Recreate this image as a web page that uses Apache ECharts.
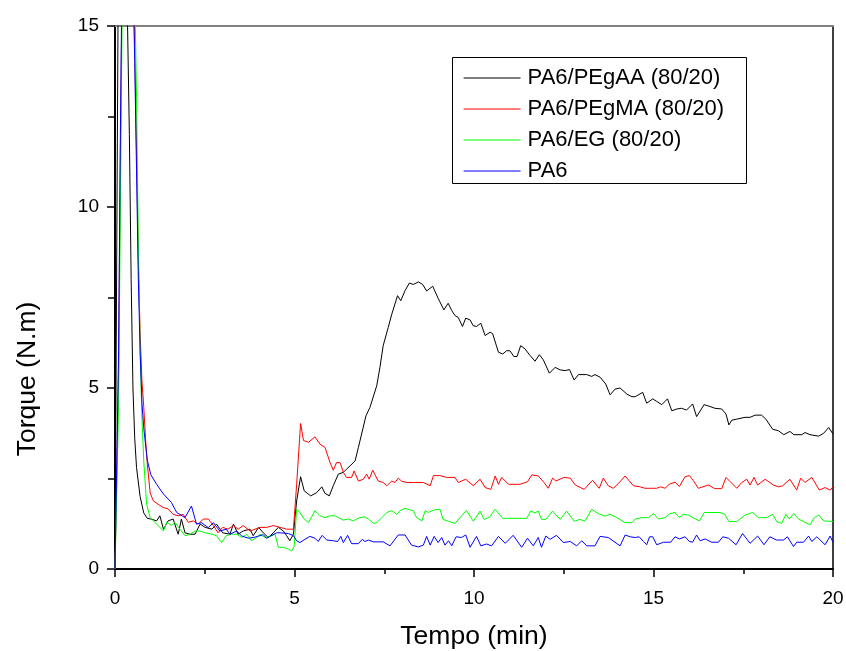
<!DOCTYPE html>
<html>
<head>
<meta charset="utf-8">
<script src="https://cdn.jsdelivr.net/npm/echarts@6/dist/echarts.min.js"></script>
<style>html,body{margin:0;padding:0;background:#fff}#c{width:846px;height:651px}</style>
</head>
<body>
<div id="c"></div>
<script>
// ---- data (time in min, torque in N.m) ----
var seriesNames = ['PA6/PEgAA (80/20)', 'PA6/PEgMA (80/20)', 'PA6/EG (80/20)', 'PA6'];
var xTicks = [0, 5, 10, 15, 20];
var yTicks = [0, 5, 10, 15];

var blackData = [[0,0],[0.05,9],[0.1,18],[0.2,22],[0.3,18],[0.4,12],[0.45,8],[0.5,5],[0.55,3.6],[0.6,2.8],
[0.7,2.0],[0.8,1.55],[0.9,1.4],[1.0,1.38],[1.16,1.33],[1.25,1.47],[1.35,1.1],[1.48,1.33],[1.62,1.38],[1.76,0.96],
[1.85,1.38],[1.95,1.0],[2.09,0.96],[2.23,0.96],[2.37,1.24],[2.51,1.15],[2.7,1.1],[2.83,1.24],[3.0,1.0],[3.2,0.96],
[3.3,1.24],[3.43,0.96],[3.57,1.05],[3.76,1.1],[3.85,0.92],[4.0,1.15],[4.13,1.0],[4.27,0.87],[4.41,1.0],[4.55,1.15],
[4.69,1.05],[4.78,0.92],[4.87,0.78],[4.97,0.96],[5.06,1.88],[5.17,2.55],[5.27,2.16],[5.45,2.02],[5.62,2.11],[5.76,2.27],
[5.85,2.09],[5.97,2.02],[6.08,2.3],[6.22,2.62],[6.36,2.67],[6.45,2.76],[6.55,2.85],[6.69,2.99],[6.78,3.36],[6.87,3.73],
[6.99,4.23],[7.1,4.46],[7.29,5.06],[7.38,5.57],[7.47,6.17],[7.61,6.67],[7.71,7.04],[7.87,7.55],[7.96,7.41],[8.08,7.69],
[8.2,7.9],[8.31,7.86],[8.45,7.93],[8.57,7.86],[8.68,7.68],[8.85,7.81],[9.01,7.46],[9.16,7.16],[9.28,7.34],[9.38,7.14],
[9.47,7.0],[9.56,6.95],[9.68,6.7],[9.77,6.93],[9.89,6.88],[9.98,6.72],[10.07,6.7],[10.19,6.79],[10.31,6.45],[10.45,6.54],
[10.52,6.5],[10.68,5.99],[10.8,5.94],[10.91,6.03],[11.0,6.03],[11.11,5.87],[11.2,5.87],[11.3,6.17],[11.42,6.08],[11.56,5.9],
[11.7,5.74],[11.82,5.92],[11.93,5.78],[12.1,5.41],[12.26,5.57],[12.4,5.5],[12.54,5.48],[12.66,5.51],[12.79,5.22],[12.91,5.37],
[13.14,5.37],[13.28,5.32],[13.37,5.37],[13.51,5.3],[13.67,5.11],[13.79,4.81],[13.93,4.97],[14.07,5.0],[14.26,4.83],[14.4,4.76],
[14.49,4.76],[14.7,4.88],[14.81,4.58],[14.98,4.7],[15.09,4.63],[15.23,4.54],[15.39,4.7],[15.51,4.37],[15.65,4.42],[15.78,4.44],
[15.92,4.39],[16.09,4.56],[16.2,4.21],[16.41,4.54],[16.57,4.49],[16.71,4.44],[16.9,4.42],[17.02,4.28],[17.1,3.98],[17.18,4.11],
[17.32,4.14],[17.55,4.19],[17.69,4.19],[17.83,4.25],[18.01,4.25],[18.13,4.14],[18.32,3.86],[18.48,3.82],[18.63,3.71],[18.8,3.8],
[18.91,3.71],[19.13,3.71],[19.22,3.77],[19.36,3.71],[19.6,3.67],[19.74,3.75],[19.88,3.91],[19.92,3.89],[20.0,3.73]];

var redData = [[0,0],[0.05,0],[0.1,5.5],[0.15,11.5],[0.2,16.5],[0.3,22],[0.4,20],[0.5,16.8],[0.55,14.3],[0.6,11.5],
[0.65,8.5],[0.7,6.5],[0.75,5.2],[0.8,4.5],[0.85,3.6],[0.9,2.9],[0.98,2.1],[1.07,1.88],[1.2,1.79],[1.34,1.7],
[1.48,1.66],[1.62,1.51],[1.76,1.47],[1.9,1.51],[2.04,1.29],[2.18,1.33],[2.32,1.24],[2.46,1.38],[2.6,1.38],[2.74,1.2],
[2.87,1.0],[3.0,1.15],[3.15,1.1],[3.3,1.2],[3.43,1.1],[3.57,1.2],[3.76,1.05],[3.9,1.1],[4.04,1.15],[4.23,1.15],
[4.41,1.2],[4.6,1.15],[4.78,1.1],[4.97,1.1],[5.06,2.34],[5.17,4.02],[5.25,3.55],[5.39,3.5],[5.57,3.65],[5.71,3.45],
[5.85,3.36],[5.99,2.94],[6.08,2.73],[6.17,2.94],[6.27,2.94],[6.36,2.67],[6.45,2.53],[6.59,2.53],[6.66,2.71],[6.78,2.43],
[6.92,2.48],[7.01,2.62],[7.08,2.48],[7.18,2.73],[7.33,2.43],[7.47,2.39],[7.57,2.3],[7.71,2.43],[7.8,2.39],[7.89,2.51],
[7.99,2.42],[8.13,2.39],[8.31,2.39],[8.59,2.39],[8.78,2.3],[8.87,2.58],[9.05,2.58],[9.24,2.53],[9.47,2.53],[9.56,2.39],
[9.77,2.48],[9.98,2.3],[10.17,2.48],[10.31,2.25],[10.47,2.2],[10.59,2.57],[10.68,2.34],[10.77,2.53],[10.96,2.34],[11.28,2.34],
[11.49,2.41],[11.61,2.6],[11.79,2.57],[11.95,2.39],[12.07,2.23],[12.19,2.51],[12.28,2.43],[12.51,2.53],[12.68,2.51],[12.82,2.32],
[13.07,2.2],[13.3,2.45],[13.49,2.23],[13.6,2.51],[13.74,2.3],[13.88,2.23],[14.02,2.36],[14.21,2.57],[14.44,2.3],[14.63,2.27],
[14.76,2.23],[15.09,2.23],[15.2,2.27],[15.32,2.23],[15.44,2.34],[15.6,2.4],[15.72,2.28],[15.88,2.55],[16.0,2.58],[16.11,2.44],
[16.25,2.23],[16.53,2.32],[16.71,2.22],[16.9,2.22],[17.02,2.53],[17.13,2.42],[17.32,2.23],[17.46,2.39],[17.6,2.48],[17.69,2.32],
[17.8,2.53],[17.9,2.32],[18.11,2.48],[18.34,2.32],[18.48,2.27],[18.6,2.3],[18.8,2.48],[18.99,2.18],[19.1,2.51],[19.22,2.39],
[19.41,2.53],[19.62,2.18],[19.78,2.25],[19.92,2.18],[20.0,2.27]];

var greenData = [[0,0],[0.05,0],[0.1,4.5],[0.15,10],[0.2,15.5],[0.3,22],[0.4,21],[0.5,18],[0.55,16],[0.6,13],
[0.65,9],[0.7,6],[0.75,4.2],[0.8,3.0],[0.88,1.79],[0.98,1.42],[1.16,1.24],[1.35,1.05],[1.44,1.29],[1.58,1.2],
[1.67,1.29],[1.81,1.1],[1.95,0.92],[2.09,0.96],[2.23,1.05],[2.37,1.05],[2.51,1.0],[2.7,0.96],[2.83,0.92],[2.97,0.73],
[3.1,0.92],[3.24,0.96],[3.39,0.96],[3.53,0.87],[3.67,0.96],[3.8,0.78],[3.95,0.87],[4.04,0.96],[4.18,0.87],[4.37,0.92],
[4.46,0.96],[4.55,0.6],[4.69,0.6],[4.83,0.55],[4.92,0.5],[4.99,0.62],[5.06,1.65],[5.15,1.56],[5.27,1.38],[5.39,1.28],
[5.57,1.61],[5.71,1.47],[5.85,1.42],[5.99,1.47],[6.13,1.47],[6.22,1.42],[6.36,1.35],[6.5,1.38],[6.64,1.33],[6.73,1.38],
[6.82,1.42],[6.96,1.44],[7.06,1.38],[7.2,1.26],[7.29,1.28],[7.43,1.42],[7.57,1.56],[7.71,1.61],[7.85,1.51],[7.94,1.61],
[8.08,1.68],[8.22,1.63],[8.31,1.61],[8.4,1.42],[8.55,1.33],[8.64,1.61],[8.73,1.56],[8.87,1.63],[9.05,1.65],[9.14,1.37],
[9.28,1.32],[9.47,1.26],[9.61,1.42],[9.79,1.62],[9.98,1.32],[10.17,1.6],[10.28,1.37],[10.43,1.43],[10.59,1.65],[10.8,1.4],
[11.47,1.4],[11.58,1.6],[11.7,1.55],[11.79,1.6],[11.88,1.37],[12.0,1.37],[12.19,1.6],[12.4,1.37],[12.58,1.6],[12.79,1.32],
[12.95,1.37],[13.09,1.32],[13.28,1.65],[13.46,1.53],[13.65,1.46],[13.79,1.51],[13.98,1.42],[14.21,1.28],[14.4,1.28],[14.49,1.38],
[14.67,1.42],[14.86,1.42],[15.0,1.53],[15.14,1.38],[15.32,1.42],[15.46,1.53],[15.6,1.56],[15.72,1.42],[15.83,1.51],[15.97,1.49],
[16.13,1.4],[16.28,1.33],[16.41,1.56],[16.85,1.56],[16.99,1.51],[17.1,1.31],[17.32,1.31],[17.55,1.49],[17.76,1.56],[17.92,1.42],
[18.15,1.42],[18.32,1.51],[18.43,1.31],[18.57,1.26],[18.69,1.51],[18.78,1.38],[18.91,1.53],[19.04,1.38],[19.18,1.31],[19.36,1.22],
[19.48,1.42],[19.6,1.49],[19.74,1.33],[20.0,1.31]];

var blueData = [[0,0],[0.05,0],[0.1,6],[0.15,12],[0.2,17],[0.3,22],[0.4,20],[0.5,16.5],[0.55,14],[0.6,11],
[0.65,8],[0.7,6],[0.75,4.6],[0.8,3.9],[0.9,3.0],[1.0,2.6],[1.16,2.34],[1.35,2.07],[1.57,1.84],[1.72,1.56],
[1.95,1.42],[2.13,1.74],[2.27,1.24],[2.41,1.28],[2.6,1.14],[2.74,1.28],[2.92,1.05],[3.1,1.1],[3.2,0.96],[3.39,1.05],
[3.53,0.91],[3.72,0.85],[3.9,0.88],[4.13,0.95],[4.22,0.85],[4.5,1.0],[4.6,1.0],[4.83,0.98],[4.97,0.92],[5.06,0.78],
[5.15,0.73],[5.29,0.82],[5.43,0.9],[5.57,0.85],[5.66,0.76],[5.77,0.93],[5.9,0.8],[6.08,0.78],[6.2,0.76],[6.29,0.9],
[6.36,0.73],[6.48,0.93],[6.59,0.7],[6.78,0.7],[6.89,0.82],[6.96,0.76],[7.06,0.8],[7.2,0.75],[7.47,0.75],[7.66,0.64],
[7.89,0.94],[8.08,0.94],[8.26,0.66],[8.45,0.61],[8.59,0.66],[8.68,0.9],[8.78,0.66],[8.89,0.9],[9.0,0.73],[9.1,0.87],
[9.19,0.66],[9.29,0.78],[9.38,0.64],[9.5,0.89],[9.65,0.87],[9.77,0.94],[9.89,0.6],[10.07,0.9],[10.19,0.64],[10.35,0.69],
[10.49,0.64],[10.68,0.9],[10.87,0.71],[11.09,0.93],[11.33,0.6],[11.49,0.85],[11.65,0.64],[11.79,0.87],[11.88,0.6],[12.0,0.91],
[12.12,0.82],[12.3,0.93],[12.49,0.73],[12.68,0.76],[12.86,0.64],[13.0,0.78],[13.14,0.64],[13.37,0.64],[13.51,0.9],[13.74,0.87],
[14.07,0.64],[14.21,0.94],[14.35,0.89],[14.49,0.87],[14.6,0.89],[14.72,0.76],[14.81,0.67],[14.89,0.89],[14.98,0.89],[15.09,0.67],
[15.28,0.74],[15.48,0.74],[15.6,0.89],[15.72,0.83],[15.88,0.89],[16.0,0.76],[16.09,0.74],[16.2,0.94],[16.3,0.78],[16.44,0.83],
[16.62,0.74],[16.81,0.74],[16.93,0.89],[17.09,0.85],[17.3,0.67],[17.48,0.98],[17.69,0.71],[17.9,0.91],[18.08,0.67],[18.24,0.89],
[18.43,0.8],[18.62,0.8],[18.73,0.89],[18.9,0.62],[18.99,0.74],[19.18,0.74],[19.32,0.91],[19.41,0.76],[19.55,0.89],[19.78,0.67],
[19.92,0.91],[20.0,0.74]];

var colors = ['#000000', '#ff0000', '#00ff00', '#0000ff'];
var allData = [blackData, redData, greenData, blueData];

var FONT = 'Liberation Sans, Arial, sans-serif';
var chart = echarts.init(document.getElementById('c'), null, {renderer: 'canvas'});

var series = allData.map(function (d, i) {
  return {
    name: seriesNames[i], type: 'line', data: d, xAxisIndex: 0, yAxisIndex: 0,
    symbol: 'none', showSymbol: false, clip: true, z: 2 + i,
    color: colors[i],
    lineStyle: {color: colors[i], width: 1}, itemStyle: {color: colors[i]}
  };
});

var legendData = seriesNames.map(function (n, i) {
  return {name: n, itemStyle: {opacity: 0}, lineStyle: {color: colors[i], width: 1.2}};
});

chart.setOption({
  animation: false,
  backgroundColor: '#fff',
  grid: {left: 115, right: 13, top: 26, bottom: 82, containLabel: false, outerBoundsMode: 'none'},
  xAxis: [{
    type: 'value', min: xTicks[0], max: xTicks[xTicks.length - 1], interval: 5,
    position: 'bottom',
    axisLine: {show: true, onZero: false, lineStyle: {color: '#000', width: 2}},
    axisTick: {show: true, length: 8, lineStyle: {color: '#000', width: 1.5}},
    minorTick: {show: true, splitNumber: 2, length: 5, lineStyle: {color: '#000', width: 1.5}},
    splitLine: {show: false},
    axisLabel: {show: true, fontSize: 19, color: '#000', fontFamily: FONT, margin: 20},
    name: 'Tempo (min)', nameLocation: 'middle', nameGap: 54,
    nameTextStyle: {fontSize: 26.5, color: '#000', fontFamily: FONT}
  }, {
    type: 'value', min: 0, max: 20, position: 'top',
    axisLine: {show: true, onZero: false, lineStyle: {color: '#808080', width: 2}},
    axisTick: {show: false}, axisLabel: {show: false}, splitLine: {show: false}
  }],
  yAxis: [{
    type: 'value', min: yTicks[0], max: yTicks[yTicks.length - 1], interval: 5,
    position: 'left',
    axisLine: {show: true, onZero: false, lineStyle: {color: '#000', width: 2}},
    axisTick: {show: true, length: 8, lineStyle: {color: '#000', width: 1.5}},
    minorTick: {show: true, splitNumber: 2, length: 7, lineStyle: {color: '#000', width: 1.5}},
    splitLine: {show: false},
    axisLabel: {show: true, fontSize: 19, color: '#000', fontFamily: FONT, margin: 16}
  }, {
    type: 'value', min: 0, max: 15, position: 'right',
    axisLine: {show: true, onZero: false, lineStyle: {color: '#000', width: 1.5}},
    axisTick: {show: false}, axisLabel: {show: false}, splitLine: {show: false}
  }],
  legend: {
    show: true, orient: 'vertical', left: 463, top: 67,
    itemWidth: 57, itemHeight: 20, itemGap: 9, padding: 0,
    itemStyle: {opacity: 0},
    data: legendData,
    textStyle: {fontSize: 22, lineHeight: 22, color: '#000', fontFamily: FONT, padding: [0, 0, 0, 2]}
  },
  graphic: [{
    type: 'rect', z: 100, silent: true,
    shape: {x: 452.5, y: 57.5, width: 294, height: 126},
    style: {fill: 'transparent', stroke: '#000', lineWidth: 1}
  }, {
    type: 'text', z: 100, silent: true, x: 28, y: 379, rotation: Math.PI / 2,
    style: {text: 'Torque (N.m)', fontSize: 26.5, fontFamily: FONT, fill: '#000',
      textAlign: 'center', textVerticalAlign: 'middle'}
  }],
  series: series
});
</script>
</body>
</html>
